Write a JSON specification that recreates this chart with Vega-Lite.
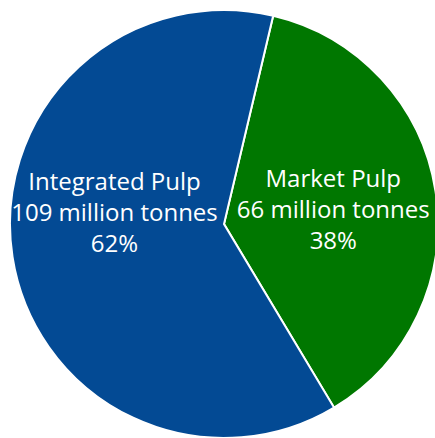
{
  "$schema": "https://vega.github.io/schema/vega-lite/v6.json",
  "width": 422,
  "height": 428,
  "autosize": {"type": "none"},
  "padding": {"left": 13, "top": 10, "right": 0, "bottom": 0},
  "background": "white",
  "view": {"stroke": null},
  "data": {
    "values": [
      {"segment": "Market Pulp", "tonnes": 66, "rank": 1, "label": "Market Pulp\n66 million tonnes\n38%"},
      {"segment": "Integrated Pulp", "tonnes": 109, "rank": 2, "label": "Integrated Pulp\n109 million tonnes\n62%"}
    ]
  },
  "layer": [
    {
      "mark": {"type": "arc", "outerRadius": 214, "stroke": "white", "strokeWidth": 2},
      "encoding": {
        "theta": {"field": "tonnes", "type": "quantitative", "stack": true, "scale": {"range": [0.232, 6.515]}},
        "order": {"field": "rank", "type": "quantitative"},
        "color": {
          "field": "segment",
          "type": "nominal",
          "scale": {"domain": ["Market Pulp", "Integrated Pulp"], "range": ["#007700", "#034a94"]},
          "legend": null
        }
      }
    },
    {
      "mark": {"type": "text", "radius": 110, "dy": -31, "lineBreak": "\n", "font": "Open Sans", "fontSize": 24, "lineHeight": 31, "color": "white", "align": "center", "baseline": "middle"},
      "encoding": {
        "theta": {"field": "tonnes", "type": "quantitative", "stack": true, "scale": {"range": [0.192, 6.894]}},
        "order": {"field": "rank", "type": "quantitative"},
        "text": {"field": "label", "type": "nominal"}
      }
    }
  ],
  "resolve": {"scale": {"theta": "independent"}}
}
